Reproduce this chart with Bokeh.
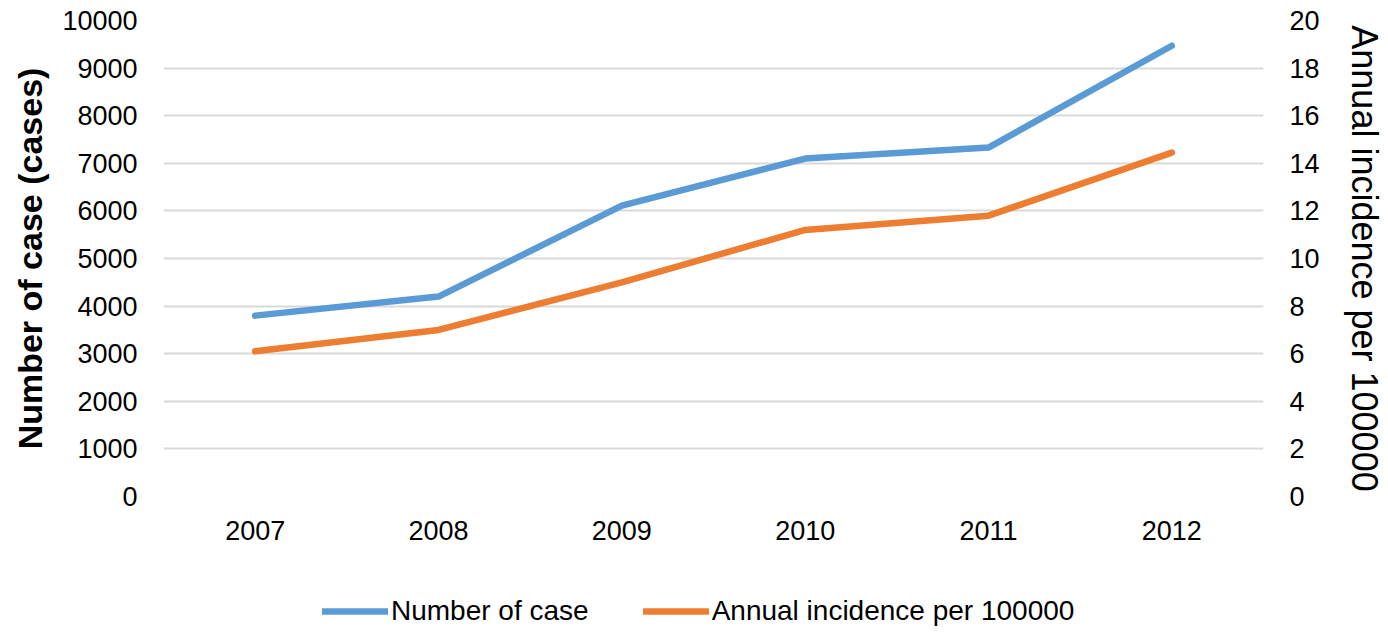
from bokeh.plotting import figure
from bokeh.models import (FactorRange, Range1d, LinearAxis, FixedTicker, Legend, LegendItem)
from bokeh.layouts import column
from bokeh.embed import file_html
from bokeh.resources import INLINE

years = ["2007", "2008", "2009", "2010", "2011", "2012"]
cases = [3800, 4200, 6110, 7100, 7330, 9470]
incidence = [6.1, 7.0, 9.0, 11.2, 11.8, 14.45]
left_ticks = [0, 1000, 2000, 3000, 4000, 5000, 6000, 7000, 8000, 9000, 10000]
right_ticks = [0, 2, 4, 6, 8, 10, 12, 14, 16, 18, 20]
series_names = ["Number of case", "Annual incidence per 100000"]

FONT = "Liberation Sans"
BLUE = "#5B9BD5"
ORANGE = "#ED7D31"

p = figure(width=1388, height=590, x_range=FactorRange(*years),
           y_range=Range1d(0, 10000), output_backend="svg", toolbar_location=None,
           min_border_left=163, min_border_right=125, min_border_top=20, min_border_bottom=94)
p.outline_line_color = None
p.extra_y_ranges = {"right": Range1d(0, 20)}

p.line(years, cases, line_color=BLUE, line_width=6.5, line_cap="round", line_join="round")
p.line(years, incidence, y_range_name="right", line_color=ORANGE, line_width=6.5,
       line_cap="round", line_join="round")

raxis = LinearAxis(y_range_name="right", ticker=FixedTicker(ticks=right_ticks),
                   axis_label="Annual incidence per 100000")
p.add_layout(raxis, "right")

p.yaxis[0].ticker = FixedTicker(ticks=left_ticks)
p.yaxis[0].axis_label = "Number of case (cases)"

for ax in [p.xaxis[0], p.yaxis[0], raxis]:
    ax.axis_line_color = None
    ax.major_tick_line_color = None
    ax.minor_tick_line_color = None
    ax.major_label_text_font = FONT
    ax.major_label_text_font_size = "27px"
    ax.major_label_text_color = "#000000"
    ax.axis_label_text_font = FONT
    ax.axis_label_text_color = "#000000"

p.yaxis[0].major_label_standoff = 20
p.yaxis[0].axis_label_text_font_size = "34px"
p.yaxis[0].axis_label_text_font_style = "bold"
p.yaxis[0].axis_label_standoff = 10
raxis.major_label_standoff = 20
raxis.axis_label_text_font_size = "36px"
raxis.axis_label_text_font_style = "normal"
raxis.axis_label_standoff = 21
p.xaxis[0].major_label_standoff = 18

p.xgrid.grid_line_color = None
p.ygrid.ticker = FixedTicker(ticks=left_ticks)
p.ygrid.grid_line_color = "#D9D9D9"
p.ygrid.grid_line_width = 2

# legend strip below the chart (frame is aligned with the chart's frame)
q = figure(width=1388, height=43, x_axis_type=None, y_axis_type=None,
           output_backend="svg", toolbar_location=None,
           min_border_left=0, min_border_right=0, min_border_top=0, min_border_bottom=0)
q.outline_line_color = None
q.xgrid.grid_line_color = None
q.ygrid.grid_line_color = None
nan = float("nan")
d1 = q.line([nan], [nan], line_color=BLUE, line_width=6.5, line_cap="round")
d2 = q.line([nan], [nan], line_color=ORANGE, line_width=6.5, line_cap="round")

legend = Legend(items=[LegendItem(label=series_names[0], renderers=[d1]),
                       LegendItem(label=series_names[1], renderers=[d2])],
                orientation="horizontal", location=(159, 6))
legend.border_line_color = None
legend.background_fill_alpha = 0
legend.label_text_font = FONT
legend.label_text_font_size = "28px"
legend.label_text_color = "#000000"
legend.glyph_width = 66
legend.glyph_height = 30
legend.label_standoff = 3
legend.spacing = 54
legend.padding = 0
legend.margin = 0
q.add_layout(legend, "center")

layout = column(p, q, spacing=0)
open("out.html", "w").write(file_html(layout, INLINE))
